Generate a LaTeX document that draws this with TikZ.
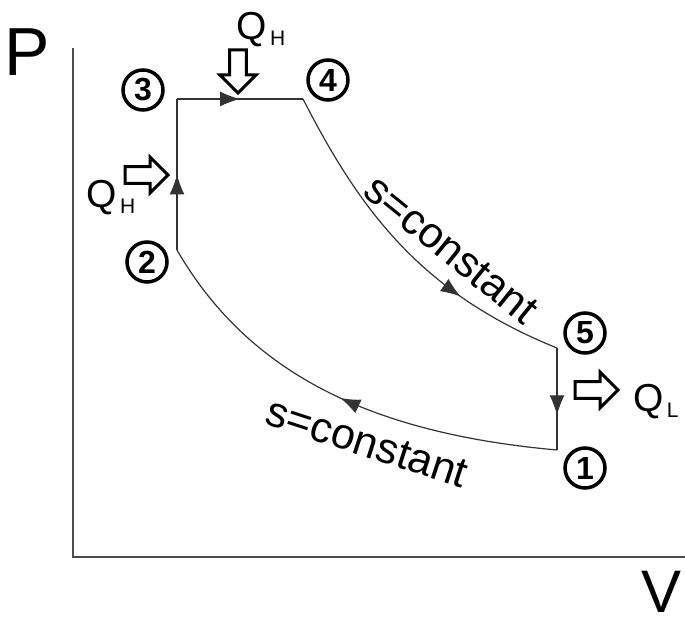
\documentclass[tikz,border=0pt]{standalone}
\usepackage{fontspec}
\setmainfont{Liberation Sans}
\usetikzlibrary{arrows.meta,decorations.markings}

\tikzset{
  cycleline/.style={draw=black!80, line width=1.2pt},
  midarrow/.style={postaction={decorate}, decoration={markings,
      mark=at position #1 with {\arrow{Latex[length=20pt,width=15pt]}}}},
  statenum/.style={circle, draw, line width=3.5pt, minimum size=40pt,
      inner sep=0pt, font=\fontsize{32}{32}\selectfont\bfseries},
  heatlabel/.style={font=\fontsize{39}{39}\selectfont, inner sep=0pt},
  sconst/.style={font=\fontsize{43}{43}\selectfont},
  heatarrow/.pic={
    \draw[line width=3pt, line join=miter, fill=white]
      (0,-8.3) -- (25,-8.3) -- (25,-18) -- (43,0) -- (25,18)
      -- (25,8.3) -- (0,8.3) -- cycle;
  },
}
\newcommand{\Qsub}[1]{Q\hspace{3pt}\raisebox{-6pt}{\fontsize{21}{21}\selectfont #1}}

\begin{document}
\begin{tikzpicture}[x=1pt, y=1pt]
  \useasboundingbox (0,0) rectangle (685,622);
  % axes
  \coordinate (O) at (73,65);
  \coordinate (Ptop) at (73,574);
  \coordinate (Vend) at (685,65);
  \draw[black!70, line width=1.5pt] (Ptop) -- (O) -- (Vend);
  \node (P) at (27,570) {\fontsize{68}{68}\selectfont P};
  \node (V) at (662,30) {\fontsize{60}{60}\selectfont V};

  % states of the cycle
  \coordinate (s1) at (557,172);
  \coordinate (s2) at (177,372);
  \coordinate (s3) at (177,523);
  \coordinate (s4) at (303,523);
  \coordinate (s5) at (557,274);
  \draw[cycleline, midarrow=0.50] (s2) -- (s3);
  \draw[cycleline, midarrow=0.50] (s3) -- (s4);
  \draw[cycleline, midarrow=0.70]
    (s4) .. controls (358,416) and (418,330) .. (s5);
  \draw[cycleline, midarrow=0.66] (s5) -- (s1);
  \draw[cycleline, midarrow=0.50]
    (s1) .. controls (367,189) and (247,251) .. (s2);

  \node[statenum] (n1) at (585,154) {1};
  \node[statenum] (n2) at (147,360) {2};
  \node[statenum] (n3) at (143,532) {3};
  \node[statenum] (n4) at (328,542) {4};
  \node[statenum] (n5) at (585,289) {5};

  % heat in and out
  \pic[rotate=-90] (qtop) at (238,572) {heatarrow};
  \pic (qleft) at (125,447) {heatarrow};
  \pic (qright) at (575,232) {heatarrow};
  \node[heatlabel] (QHtop) at (261,592) {\Qsub{H}};
  \node[heatlabel] (QHleft) at (111,424) {\Qsub{H}};
  \node[heatlabel] (QL) at (656,220) {\Qsub{L}};

  \node[sconst, rotate=-39] (sexp) at (451,372) {s=constant};
  \node[sconst, rotate=-18] (scomp) at (367,179) {s=constant};
\end{tikzpicture}
\end{document}
